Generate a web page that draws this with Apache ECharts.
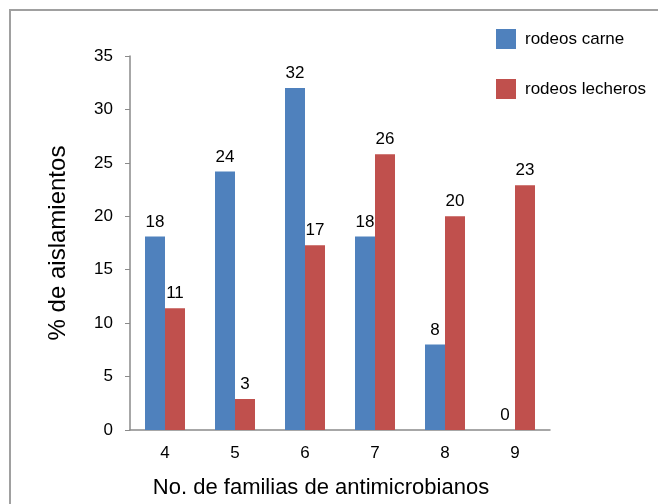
<!DOCTYPE html>
<html>
<head>
<meta charset="utf-8">
<script src="https://cdn.jsdelivr.net/npm/echarts@6/dist/echarts.min.js"></script>
<style>
html, body { margin: 0; padding: 0; background: #fff; }
#chart { width: 658px; height: 504px; }
</style>
</head>
<body>
<div id="chart"></div>
<script>
// categorias: numero de familias de antimicrobianos
var categorias = ['4', '5', '6', '7', '8', '9'];
// % de aislamientos por tipo de rodeo
var rodeosCarne = [18.1, 24.2, 32.0, 18.1, 8.0, 0];
var rodeosLecheros = [11.4, 2.9, 17.3, 25.8, 20.0, 22.9];
var yTicks = [0, 5, 10, 15, 20, 25, 30, 35];

var fuente = '"Liberation Sans", Arial, sans-serif';

function setBarras(domId) {
	var dom = document.getElementById(domId);
	var chart = echarts.init(dom);

	var labelCfg = {
		show: true,
		position: 'top',
		distance: 6,
		color: '#000',
		fontSize: 17,
		fontFamily: fuente,
		formatter: function(p) {
			return Math.round(p.value);
		}
	};

	var option = {
		animation: false,
		backgroundColor: '#fff',
		graphic: [{
			type: 'rect',
			shape: { x: 10, y: 10, width: 700, height: 600 },
			style: { fill: 'none', stroke: '#a0a0a0', lineWidth: 2 },
			silent: true
		}],
		legend: {
			orient: 'vertical',
			left: 496,
			top: 29,
			padding: 0,
			itemWidth: 20,
			itemHeight: 20,
			itemGap: 30,
			icon: 'rect',
			textStyle: {
				fontSize: 17,
				fontFamily: fuente,
				color: '#000',
				padding: [0, 0, 0, 4]
			},
			data: ['rodeos carne', 'rodeos lecheros']
		},
		grid: {
			left: 130,
			right: 108,
			top: 56,
			bottom: 71
		},
		xAxis: {
			type: 'category',
			data: categorias,
			name: 'No. de familias de antimicrobianos',
			nameLocation: 'middle',
			nameGap: 47,
			nameTextStyle: {
				fontSize: 22,
				fontFamily: fuente,
				color: '#000',
				padding: [0, 38, 0, 0]
			},
			axisLine: { lineStyle: { color: '#8a8a8a', width: 1.5 } },
			axisTick: { show: false },
			axisLabel: {
				margin: 15,
				fontSize: 17,
				fontFamily: fuente,
				color: '#000'
			}
		},
		yAxis: {
			type: 'value',
			min: yTicks[0],
			max: yTicks[yTicks.length - 1],
			interval: 5,
			name: '% de aislamientos',
			nameLocation: 'middle',
			nameRotate: 90,
			nameGap: 60,
			nameTextStyle: {
				fontSize: 24,
				fontFamily: fuente,
				color: '#000'
			},
			axisLine: { show: true, lineStyle: { color: '#8a8a8a', width: 1.5 } },
			axisTick: { show: true, length: 5, lineStyle: { color: '#8a8a8a' } },
			splitLine: { show: false },
			axisLabel: {
				margin: 17,
				fontSize: 17,
				fontFamily: fuente,
				color: '#000'
			}
		},
		series: [{
			name: 'rodeos carne',
			type: 'bar',
			data: rodeosCarne,
			barWidth: 20,
			barGap: '0%',
			itemStyle: { color: '#4F81BD' },
			label: labelCfg
		}, {
			name: 'rodeos lecheros',
			type: 'bar',
			data: rodeosLecheros,
			barWidth: 20,
			itemStyle: { color: '#C0504D' },
			label: labelCfg
		}]
	};

	chart.setOption(option, true);
}

setBarras('chart');
</script>
</body>
</html>
